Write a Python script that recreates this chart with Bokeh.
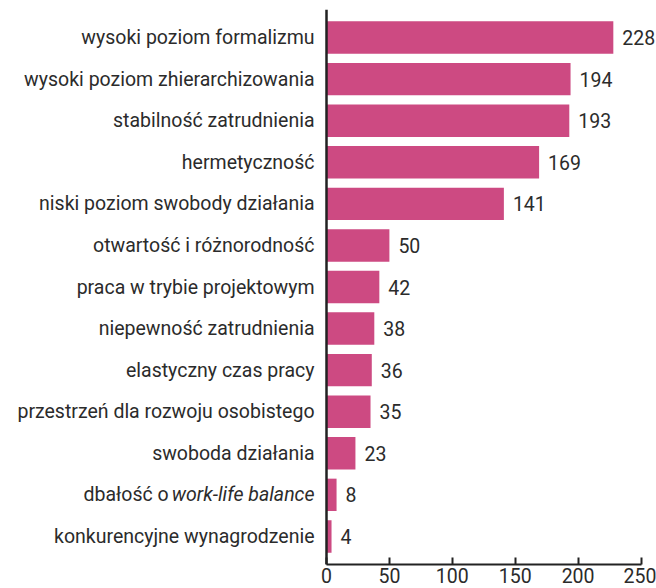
from bokeh.plotting import figure
from bokeh.models import Range1d, ColumnDataSource, FixedTicker, Span
from bokeh.core.properties import value
from bokeh.embed import file_html
from bokeh.resources import INLINE

categories = [
    "wysoki poziom formalizmu",
    "wysoki poziom zhierarchizowania",
    "stabilność zatrudnienia",
    "hermetyczność",
    "niski poziom swobody działania",
    "otwartość i różnorodność",
    "praca w trybie projektowym",
    "niepewność zatrudnienia",
    "elastyczny czas pracy",
    "przestrzeń dla rozwoju osobistego",
    "swoboda działania",
    "dbałość o work-life balance",
    "konkurencyjne wynagrodzenie",
]
values = [228, 194, 193, 169, 141, 50, 42, 38, 36, 35, 23, 8, 4]
x_ticks = [0, 50, 100, 150, 200, 250]
special = "dbałość o work-life balance"
special_plain = "dbałość o "
special_italic = "work-life balance"

FONT = "Roboto"
FS = "19.5px"
TEXT = "#2b2b2b"
BAR = "#cd4a82"
AXIS = "#222222"

n = len(categories)
ypos = [n - 1 - i for i in range(n)]
src = ColumnDataSource(dict(y=ypos, val=values, lab=[str(v) for v in values],
                            cat=["" if c == special else c for c in categories]))
sy = ypos[categories.index(special)]

PX_PER_UNIT = 1.258
p = figure(
    width=656, height=588,
    y_range=Range1d(-0.675, n - 1 + 0.675),
    x_range=Range1d(-326 / PX_PER_UNIT, 330 / PX_PER_UNIT),
    output_backend="svg", toolbar_location=None,
    min_border_left=0, min_border_right=0, min_border_top=9, min_border_bottom=24,
)
p.outline_line_color = None
p.grid.visible = False
p.yaxis.visible = False
p.background_fill_color = "white"
p.border_fill_color = "white"

p.hbar(y="y", right="val", left=0, height=0.78, source=src, fill_color=BAR, line_color=None)
p.add_layout(Span(location=0, dimension="height", line_color=AXIS, line_width=2.5))

p.text(x="val", y="y", text="lab", source=src, x_offset=9, text_align="left",
       text_baseline="middle", text_font=value(FONT), text_font_size=FS, text_color=TEXT)
p.text(x=0, y="y", text="cat", source=src, x_offset=-12, text_align="right",
       text_baseline="middle", text_font=value(FONT), text_font_size=FS, text_color=TEXT)

italic_w = 141
p.text(x=[0], y=[sy], text=[special_italic], x_offset=-12, text_align="right",
       text_baseline="middle", text_font=value(FONT), text_font_size=FS,
       text_font_style="italic", text_color=TEXT)
p.text(x=[0], y=[sy], text=[special_plain], x_offset=-12 - italic_w, text_align="right",
       text_baseline="middle", text_font=value(FONT), text_font_size=FS, text_color=TEXT)

xa = p.xaxis[0]
xa.ticker = FixedTicker(ticks=x_ticks)
xa.bounds = (0, 250)
xa.axis_line_width = 2
xa.axis_line_color = AXIS
xa.major_tick_line_width = 2
xa.major_tick_line_color = AXIS
xa.major_tick_in = 7
xa.major_tick_out = 0
xa.minor_tick_line_color = None
xa.major_label_standoff = 3
xa.major_label_text_font = FONT
xa.major_label_text_font_size = FS
xa.major_label_text_color = TEXT

open("out.html", "w").write(file_html(p, INLINE))
